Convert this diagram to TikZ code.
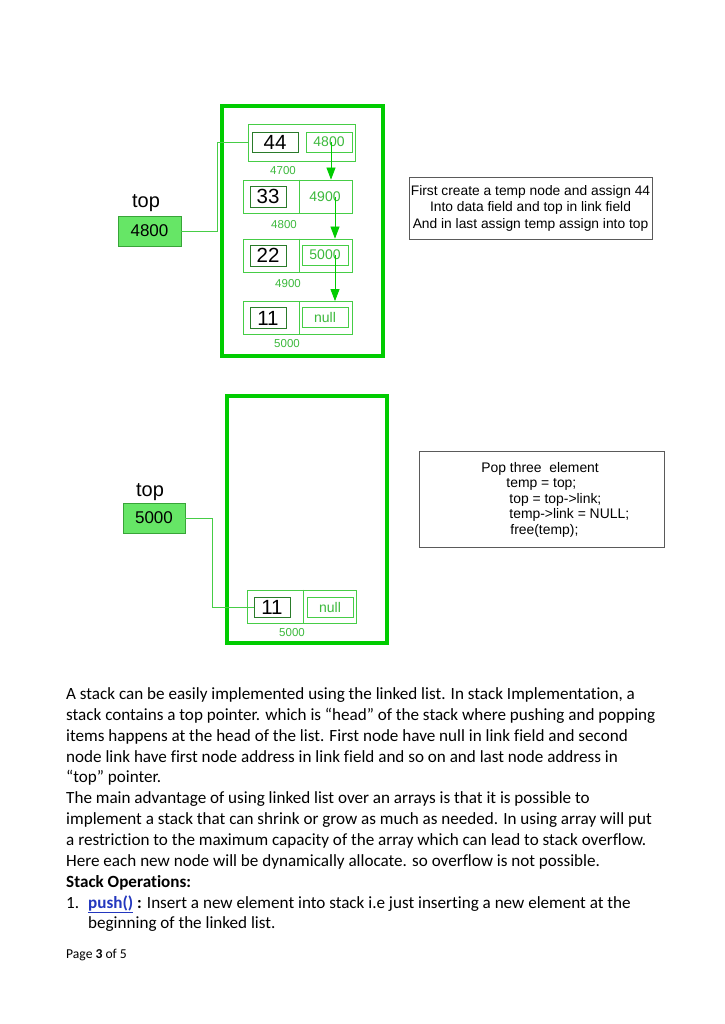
\documentclass[tikz,border=0pt]{standalone}
\usepackage{fontspec}
\setmainfont{Carlito}[Ligatures=NoCommon]
\newfontfamily\arialfont{Liberation Sans}
\usepackage{xcolor}
\usepackage{tikz}
\usetikzlibrary{positioning, arrows.meta, calc}

\definecolor{framegreen}{RGB}{0,204,0}
\definecolor{cellgreen}{RGB}{70,205,70}
\definecolor{textgreen}{RGB}{60,185,60}
\definecolor{topfill}{RGB}{102,230,102}
\definecolor{linkblue}{RGB}{35,55,190}
\definecolor{notegray}{RGB}{90,90,90}

\tikzset{
    stackframe/.style={draw=framegreen, line width=4.5pt},
    cell/.style={draw=cellgreen, line width=0.8pt, minimum width=109pt, minimum height=33pt, inner sep=0pt},
    divider/.style={draw=cellgreen, line width=0.8pt},
    databox/.style={draw=cellgreen!60!black, line width=0.8pt, minimum width=37pt, minimum height=21pt, inner sep=0pt, font=\arialfont\fontsize{20.5}{20.5}\selectfont},
    linkbox/.style={draw=cellgreen, line width=0.8pt, minimum width=46pt, minimum height=20pt, inner sep=0pt, text=textgreen, font=\arialfont\fontsize{14}{14}\selectfont},
    linktext/.style={inner sep=0pt, text=textgreen, font=\arialfont\fontsize{14}{14}\selectfont},
    addr/.style={inner sep=0pt, text=textgreen, font=\arialfont\fontsize{11.5}{11.5}\selectfont},
    topbox/.style={draw=cellgreen!80!black, fill=topfill, line width=0.8pt, minimum width=63pt, minimum height=30pt, inner sep=0pt, font=\arialfont\fontsize{17}{17}\selectfont},
    toplabel/.style={inner sep=0pt, font=\arialfont\fontsize{20}{20}\selectfont},
    ptr/.style={draw=cellgreen, line width=0.8pt},
    nextptr/.style={draw=framegreen, line width=0.8pt, -{Triangle[length=12pt, width=9pt]}},
    note/.style={draw=notegray, line width=0.8pt, inner sep=0pt, font=\arialfont\fontsize{13.8}{16.5}\selectfont},
    body/.style={inner sep=0pt, font=\fontsize{17.1}{20.85}\selectfont},
}

\begin{document}
\begin{tikzpicture}[x=1pt, y=-1pt]
    \useasboundingbox[fill=white] (0,0) rectangle (724,1024);

    % stack after push of 44
    \draw[stackframe] (222,106) rectangle (383,356);

    \node[cell, minimum width=107pt, minimum height=37pt] (n1) at (301.5,142.5) {};
    \node[databox, minimum width=46pt, minimum height=20pt] (d1) at (275,142) {44};
    \node[linkbox] (l1) at (329,142) {4800};

    \foreach \i/\y/\val in {2/196.5/33, 3/255.5/22, 4/318/11} {
        \node[cell] (n\i) at (297.5,\y) {};
        \draw[divider] ($(n\i.north)+(1.5,0)$) -- ($(n\i.south)+(1.5,0)$);
        \node[databox, minimum width=36pt] (d\i) at (268,\y) {\val};
    }
    \node[linktext] (l2) at (325,197) {4900};
    \node[linkbox] (l3) at (325,255) {5000};
    \node[linkbox] (l4) at (325,317.5) {null};

    \foreach \i/\x/\y/\val in {1/283/171/4700, 2/284/225/4800, 3/288/284/4900, 4/287/344/5000} {
        \node[addr] (a\i) at (\x,\y) {\val};
    }

    \coordinate (p2) at ($(l2.center)+(10,0)$);
    \coordinate (p3) at ($(l3.center)+(10,0)$);
    \draw[nextptr] ($(l1.center)+(2,0)$) -- ($(l1.center |- n2.north)+(2,0)$);
    \draw[nextptr] (p2) -- (p2 |- n3.north);
    \draw[nextptr] (p3) -- (p3 |- n4.north);

    \node[topbox] (top1) at (149.5,231) {4800};
    \node[toplabel] (t1) at (146,203) {top};
    \draw[ptr] (top1.east) -- ++(36,0) |- (n1.west);

    \node[note, minimum width=243pt, minimum height=62pt, align=center] (note1) at (530.5,208)
        {First create a temp node and assign 44\\Into data field and top in link field\\And in last assign temp assign into top};

    % stack after popping three
    \draw[stackframe] (227,396) rectangle (387,643);

    \node[topbox, minimum width=62pt] (top2) at (154,518) {5000};
    \node[toplabel] (t2) at (150,492) {top};

    \node[cell] (m1) at (301.5,606.5) {};
    \draw[divider] ($(m1.north)+(1.5,0)$) -- ($(m1.south)+(1.5,0)$);
    \node[databox, minimum width=36pt, minimum height=20pt] (e1) at (272,607) {11};
    \node[linkbox, minimum width=46pt] (f1) at (330,607) {null};
    \node[addr] (b1) at (292,633) {5000};
    \draw[ptr] (top2.east) -- ++(27,0) |- (e1.west);

    \node[note, minimum width=245pt, minimum height=96pt] (note2) at (541.5,499) {};
    \node[note, draw=none, anchor=north west, align=left, font=\arialfont\fontsize{13.9}{15.5}\selectfont] (popcode) at (481,462)
        {Pop three\ \ element\\\hspace{25pt}temp = top;\\\hspace{28pt}top = top->link;\\\hspace{28pt}temp->link = NULL;\\\hspace{29pt}free(temp);};

    % page text
    \node[body, anchor=north west, align=left] (para) at (66,687.5)
        {A stack can be easily implemented using the linked list. In stack Implementation, a\\
         stack contains a top pointer. which is “head” of the stack where pushing and popping\\
         items happens at the head of the list. First node have null in link field and second\\
         node link have first node address in link field and so on and last node address in\\
         “top” pointer.\\
         The main advantage of using linked list over an arrays is that it is possible to\\
         implement a stack that can shrink or grow as much as needed. In using array will put\\
         a restriction to the maximum capacity of the array which can lead to stack overflow.\\
         Here each new node will be dynamically allocate. so overflow is not possible.\\
         \textbf{Stack Operations:}\\
         \makebox[22pt][l]{1.}\textcolor{linkblue}{\underline{\textbf{push()}}}\textbf{ :} Insert a new element into stack i.e just inserting a new element at the\\
         \hspace{22pt}beginning of the linked list.};
    \node[inner sep=0pt, anchor=west, font=\fontsize{13.6}{13.6}\selectfont] (page) at (66,955) {Page \textbf{3} of 5};
\end{tikzpicture}
\end{document}
